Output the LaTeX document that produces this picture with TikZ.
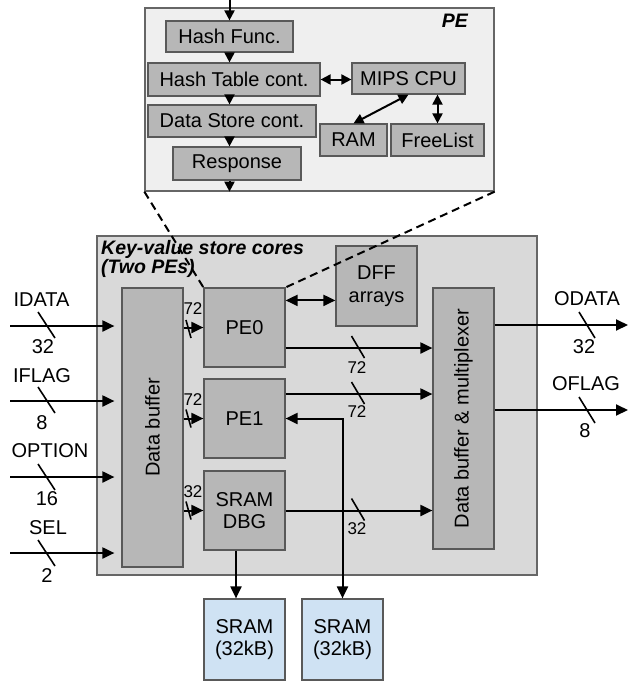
\documentclass[tikz,border=0pt]{standalone}
\usepackage{fontspec}
\setmainfont{Liberation Sans}
\usetikzlibrary{arrows.meta,calc}
\definecolor{peframe}{HTML}{EFEFEF}
\definecolor{corefill}{HTML}{D9D9D9}
\definecolor{blkfill}{HTML}{B7B7B7}
\definecolor{sramfill}{HTML}{CFE2F3}
\definecolor{edgegray}{HTML}{595959}
\definecolor{framegray}{HTML}{666666}
\begin{document}
\begin{tikzpicture}[x=1pt,y=-1pt,
  every node/.style={font=\fontsize{20}{22.5}\selectfont, inner sep=0pt},
  frame/.style={draw=framegray, line width=1.3pt},
  blk/.style={draw=edgegray, line width=1.2pt, fill=blkfill, align=center},
  sram/.style={draw=edgegray, line width=1.2pt, fill=sramfill, align=center,
    minimum width=81pt, minimum height=81pt},
  ttl/.style={font=\fontsize{19.5}{19}\selectfont\bfseries\itshape},
  busnum/.style={font=\fontsize{17}{17}\selectfont},
  arr/.style={line width=2pt, -{Triangle[length=12pt,width=11pt]}},
  darr/.style={line width=2pt, {Triangle[length=12pt,width=11pt]}-{Triangle[length=12pt,width=11pt]}},
  parr/.style={line width=2pt, -{Triangle[length=10pt,width=10pt]}},
  pdarr/.style={line width=2pt, {Triangle[length=10pt,width=10pt]}-{Triangle[length=10pt,width=10pt]}},
  dashline/.style={line width=2pt, dash pattern=on 8pt off 5pt},
  pics/bustick/.style args={#1/#2}{code={\draw[line width=1.6pt] (-#1,-#2) -- (#1,#2);}}
]
\useasboundingbox (0,0) rectangle (628,681);

% ---------- PE detail ----------
\node[frame, fill=peframe, minimum width=349pt, minimum height=183pt] (pe) at (319.5,99.5) {};
\node[ttl, anchor=base east] (pelbl) at (468,27) {PE};
\node[blk, minimum width=127pt, minimum height=31pt] (hashf) at (229.5,36.5) {Hash Func.};
\node[blk, minimum width=172pt, minimum height=33pt] (hasht) at (234,79.5) {Hash Table cont.};
\node[blk, minimum width=168pt, minimum height=32pt] (datas) at (232,121) {Data Store cont.};
\node[blk, minimum width=128pt, minimum height=33pt] (resp) at (237,163.5) {Response};
\node[blk, minimum width=113pt, minimum height=31pt] (mips) at (408.5,78.5) {MIPS CPU};
\node[blk, minimum width=67pt, minimum height=32pt] (ram) at (353.5,140) {RAM};
\node[blk, minimum width=93pt, minimum height=32pt] (freel) at (437.5,140) {FreeList};

\coordinate (pin) at (229.5,0);
\draw[parr] (pin) -- (hashf.north);
\draw[parr] (hashf.south) -- (hashf.south |- hasht.north);
\draw[parr] (hasht.south -| hashf.south) -- (datas.north -| hashf.south);
\draw[parr] (datas.south -| hashf.south) -- (resp.north -| hashf.south);
\draw[parr] (resp.south -| hashf.south) -- (pe.south -| hashf.south);
\draw[pdarr] (hasht.east) -- (hasht.east -| mips.west);
\draw[pdarr] (mips.south) -- (ram.north);
\draw[pdarr] (freel.north |- mips.south) -- (freel.north);

% ---------- Key-value store cores ----------
\node[frame, fill=corefill, minimum width=440pt, minimum height=339pt] (core) at (317,405.5) {};
\node[ttl, anchor=base west] (ttl1) at (101,254) {Key-value store cores};
\node[ttl, anchor=base west] (ttl2) at (101,273) {(Two PEs)};

% bus widths into the PEs (partly under the data buffer)
\node[busnum] (w0) at (193,308.5) {72};
\node[busnum] (w1) at (193,400) {72};
\node[busnum] (w2) at (193,492) {32};

\node[blk, minimum width=61pt, minimum height=279pt] (db) at (152.5,427.5) {};
\node[rotate=90] (dblbl) at (db.center) {Data buffer};
\node[blk, minimum width=81pt, minimum height=79pt] (pe0) at (244.5,327.5) {PE0};
\node[blk, minimum width=81pt, minimum height=79pt] (pe1) at (244.5,418.5) {PE1};
\node[blk, minimum width=81pt, minimum height=79pt] (sdbg) at (244.5,510.5) {SRAM\\DBG};
\node[blk, minimum width=81pt, minimum height=80pt] (dff) at (376.5,286) {DFF\\arrays};
\node[blk, minimum width=61pt, minimum height=261pt] (mux) at (463.5,418.5) {};
\node[rotate=90] (muxlbl) at (mux.center) {Data buffer \& multiplexer};

\node[sram] (sram1) at (244.5,639.5) {SRAM\\(32kB)};
\node[sram] (sram2) at (342.5,639.5) {SRAM\\(32kB)};

% data buffer to PEs
\draw[arr] (db.east |- pe0.west) -- (pe0.west);
\draw[arr] (db.east |- pe1.west) -- (pe1.west);
\draw[arr] (db.east |- sdbg.west) -- (sdbg.west);
\pic at (188.5,329) {bustick={2.5/9}};
\pic at (188.5,418.5) {bustick={2.5/9}};
\pic at (188.5,510.5) {bustick={2.5/9}};

% PEs to output multiplexer
\coordinate (p0o) at ($(pe0.east)+(0,20.5)$);
\coordinate (p1o) at ($(pe1.east)+(0,-24.5)$);
\draw[arr] (p0o) -- (p0o -| mux.west);
\draw[arr] (p1o) -- (p1o -| mux.west);
\draw[arr] (sdbg.east) -- (sdbg.east -| mux.west);
\pic at (358,347) {bustick={6.5/11}};
\pic at (358,393) {bustick={6.5/11}};
\pic at (358,509.5) {bustick={6.5/11}};
\node[busnum] (m0) at (357,368) {72};
\node[busnum] (m1) at (357,412) {72};
\node[busnum] (m2) at (357,529) {32};

% PE0 and DFF arrays
\coordinate (pd) at ($(pe0.north east)+(0,13)$);
\draw[darr] (pd) -- (pd -| dff.west);

% SRAM connections
\draw[darr] (pe1.east) -| (sram2.north);
\coordinate (sd) at ($(sdbg.south)+(-8.5,0)$);
\draw[arr] (sd) -- (sd |- sram1.north);

% ---------- external inputs ----------
\coordinate (i1) at (10,326);
\coordinate (i2) at (10,401);
\coordinate (i3) at (10,477);
\coordinate (i4) at (10,553);
\draw[arr, shorten >=7pt] (i1) -- (i1 -| db.west);
\draw[arr, shorten >=7pt] (i2) -- (i2 -| db.west);
\draw[arr, shorten >=7pt] (i3) -- (i3 -| db.west);
\draw[arr, shorten >=7pt] (i4) -- (i4 -| db.west);
\pic at (46.5,325) {bustick={8.5/13}};
\pic at (46.5,400) {bustick={8.5/13}};
\pic at (46.5,477) {bustick={8.5/13}};
\pic at (46.5,553) {bustick={8.5/13}};
\node (n1) at (41.5,300) {IDATA};
\node (v1) at (43,347) {32};
\node (n2) at (42,376) {IFLAG};
\node (v2) at (42,423) {8};
\node (n3) at (50,451) {OPTION};
\node (v3) at (47,499) {16};
\node (n4) at (48,528) {SEL};
\node (v4) at (47,576) {2};

% ---------- external outputs ----------
\coordinate (o1) at (628,325);
\coordinate (o2) at (628,410);
\draw[arr] (o1 -| mux.east) -- (o1);
\draw[arr] (o2 -| mux.east) -- (o2);
\pic at (587,325) {bustick={8/13}};
\pic at (587,410) {bustick={8/13}};
\node (n5) at (587,299) {ODATA};
\node (v5) at (584,347) {32};
\node (n6) at (586,383.5) {OFLAG};
\node (v6) at (585,431) {8};

% ---------- PE0 zoom lines ----------
\draw[dashline] (pe.south west) -- (pe0.north west);
\draw[dashline] (pe.south east) -- (pe0.north east);
\end{tikzpicture}
\end{document}
